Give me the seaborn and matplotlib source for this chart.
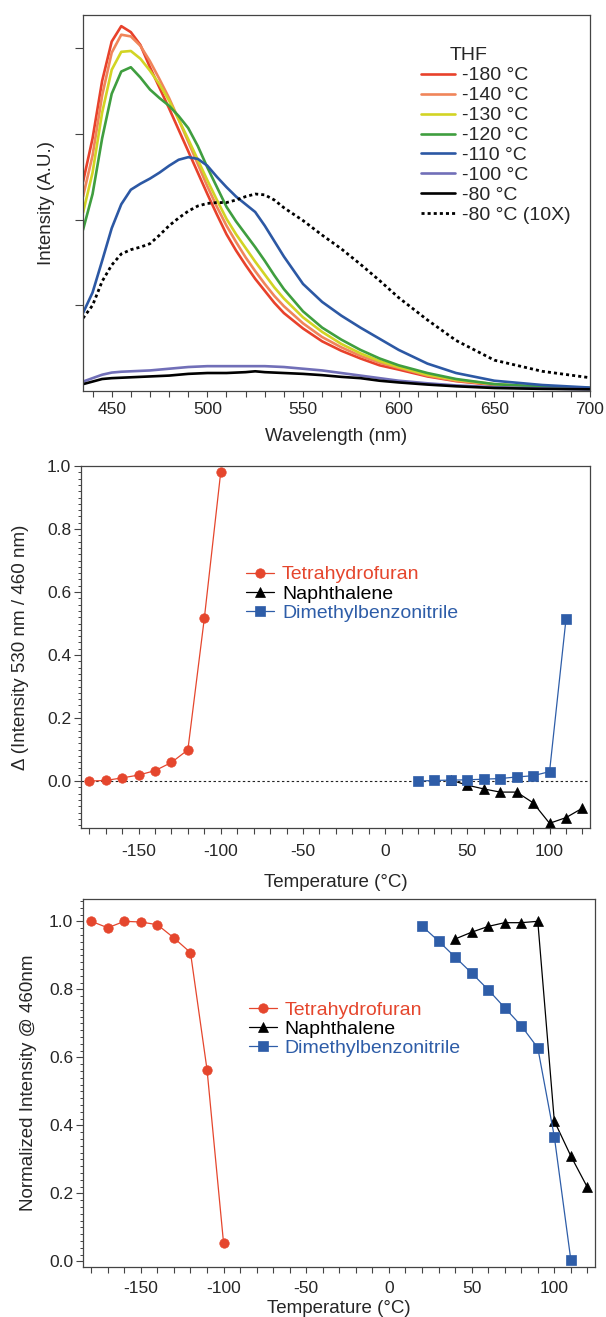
import numpy as np
import pandas as pd
import matplotlib
matplotlib.use("Agg")
import matplotlib.pyplot as plt
import seaborn as sns
from matplotlib.ticker import MultipleLocator, FormatStrFormatter

# ---------------- Panel 1: emission spectra in THF ----------------
wavelength = [435, 440, 445, 450, 455, 460, 465, 470, 475, 480, 485, 490, 495, 500, 505,
              510, 515, 520, 525, 530, 535, 540, 550, 560, 570, 580, 590, 600, 615, 630,
              650, 675, 700]
spec_m180 = [2.44, 2.95, 3.62, 4.08, 4.26, 4.19, 4.04, 3.78, 3.54, 3.30, 3.05, 2.80, 2.55, 2.30, 2.06,
             1.83, 1.64, 1.47, 1.31, 1.17, 1.03, 0.91, 0.73, 0.58, 0.47, 0.38, 0.30, 0.25, 0.17, 0.115,
             0.07, 0.045, 0.03]
spec_m140 = [2.27, 2.75, 3.45, 3.95, 4.16, 4.14, 4.03, 3.85, 3.64, 3.42, 3.17, 2.91, 2.65, 2.39, 2.15,
             1.93, 1.74, 1.56, 1.40, 1.25, 1.11, 0.99, 0.79, 0.63, 0.51, 0.41, 0.33, 0.27, 0.18, 0.12,
             0.075, 0.045, 0.03]
spec_m130 = [2.08, 2.55, 3.25, 3.75, 3.96, 3.97, 3.88, 3.74, 3.58, 3.39, 3.17, 2.94, 2.70, 2.46, 2.23,
             2.01, 1.83, 1.67, 1.51, 1.36, 1.21, 1.08, 0.86, 0.69, 0.55, 0.44, 0.35, 0.28, 0.19, 0.13,
             0.08, 0.05, 0.035]
spec_m120 = [1.88, 2.30, 2.95, 3.47, 3.73, 3.78, 3.66, 3.52, 3.42, 3.33, 3.21, 3.07, 2.86, 2.61, 2.38,
             2.15, 1.98, 1.83, 1.68, 1.52, 1.35, 1.19, 0.93, 0.74, 0.60, 0.48, 0.38, 0.30, 0.21, 0.14,
             0.08, 0.05, 0.035]
spec_m110 = [0.91, 1.15, 1.52, 1.90, 2.18, 2.35, 2.42, 2.48, 2.55, 2.63, 2.70, 2.73, 2.71, 2.63, 2.50,
             2.38, 2.27, 2.18, 2.09, 1.93, 1.75, 1.57, 1.25, 1.04, 0.88, 0.74, 0.61, 0.48, 0.32, 0.21,
             0.12, 0.07, 0.04]
spec_m100 = [0.11, 0.15, 0.19, 0.215, 0.225, 0.23, 0.235, 0.24, 0.25, 0.26, 0.27, 0.28, 0.285, 0.29, 0.29,
             0.29, 0.29, 0.29, 0.29, 0.29, 0.285, 0.28, 0.26, 0.24, 0.21, 0.18, 0.15, 0.12, 0.09, 0.065,
             0.045, 0.03, 0.02]
spec_m80 = [0.08, 0.11, 0.14, 0.15, 0.155, 0.16, 0.165, 0.17, 0.175, 0.18, 0.19, 0.20, 0.205, 0.21, 0.21,
            0.21, 0.215, 0.22, 0.23, 0.22, 0.215, 0.21, 0.20, 0.185, 0.165, 0.15, 0.12, 0.10, 0.075, 0.055,
            0.035, 0.025, 0.02]
spec_m80_x10 = [0.85, 1.00, 1.28, 1.47, 1.60, 1.65, 1.68, 1.72, 1.82, 1.93, 2.02, 2.10, 2.16, 2.19, 2.20,
                2.20, 2.23, 2.27, 2.30, 2.29, 2.23, 2.14, 1.99, 1.82, 1.66, 1.48, 1.29, 1.09, 0.83, 0.59,
                0.36, 0.23, 0.155]

spectra_labels = ["-180 °C", "-140 °C", "-130 °C", "-120 °C", "-110 °C", "-100 °C", "-80 °C", "-80 °C (10X)"]
spectra_values = [spec_m180, spec_m140, spec_m130, spec_m120, spec_m110, spec_m100, spec_m80, spec_m80_x10]
spectra_colors = ["#e8412b", "#f0855a", "#d2d424", "#3f9e3f", "#2c58a4", "#716fb8", "#000000", "#000000"]

# ---------------- Panel 2: delta ratio ----------------
temp_thf = [-180, -170, -160, -150, -140, -130, -120, -110, -100]
delta_thf = [0.0, 0.002, 0.010, 0.019, 0.033, 0.059, 0.099, 0.516, 0.981]
temp_naph = [40, 50, 60, 70, 80, 90, 100, 110, 120]
delta_naph = [0.003, -0.013, -0.025, -0.035, -0.035, -0.069, -0.134, -0.116, -0.086]
temp_dmbn = [20, 30, 40, 50, 60, 70, 80, 90, 100, 110]
delta_dmbn = [0.0, 0.002, 0.003, 0.004, 0.006, 0.008, 0.013, 0.017, 0.030, 0.514]

# ---------------- Panel 3: normalized intensity @ 460 nm ----------------
norm_thf = [1.0, 0.981, 1.0, 0.998, 0.990, 0.951, 0.908, 0.564, 0.054]
norm_naph = [0.948, 0.968, 0.985, 0.996, 0.996, 1.0, 0.413, 0.310, 0.218]
norm_dmbn = [0.986, 0.942, 0.895, 0.848, 0.799, 0.746, 0.693, 0.628, 0.367, 0.004]

solvent_labels = ["Tetrahydrofuran", "Naphthalene", "Dimethylbenzonitrile"]
solvent_colors = ["#e5462d", "#000000", "#2e5da8"]
solvent_markers = ["o", "^", "s"]

sns.set_style("ticks")
plt.rcParams['font.family'] = ['Liberation Sans', 'DejaVu Sans']
plt.rcParams['axes.unicode_minus'] = False

SPINE = "#444444"
fig = plt.figure(figsize=(6.06, 13.17), dpi=100)
H = 1317.0
W = 606.0

def add_ax(l, r, t, b):
    return fig.add_axes([l / W, 1 - b / H, (r - l) / W, (b - t) / H])

def style_frame(ax):
    for sp in ax.spines.values():
        sp.set_visible(True)
        sp.set_color(SPINE)
        sp.set_linewidth(0.9)

# ---- Panel 1 ----
ax1 = add_ax(83, 590, 15, 391)
for lab, vals, col in zip(spectra_labels, spectra_values, spectra_colors):
    dotted = "10X" in lab
    sns.lineplot(x=wavelength, y=vals, ax=ax1, color=col, label=lab,
                 linewidth=2.0 if dotted else 1.9,
                 linestyle=(0, (1.1, 1.1)) if dotted else "-", errorbar=None)
ax1.set_xlim(435, 700)
ax1.set_ylim(0, 4.39)
ax1.xaxis.set_major_locator(MultipleLocator(50))
ax1.xaxis.set_minor_locator(MultipleLocator(10))
ax1.set_yticks([1, 2, 3, 4])
ax1.set_yticklabels([])
style_frame(ax1)
ax1.tick_params(axis="x", which="both", direction="out", length=4, width=0.8, color=SPINE,
                labelsize=12.5, pad=4)
ax1.tick_params(axis="y", which="major", direction="out", length=6, width=0.8, color=SPINE)
ax1.set_xlabel("Wavelength (nm)", fontsize=13.5, labelpad=8)
ax1.set_ylabel("Intensity (A.U.)", fontsize=13.5)
ax1.yaxis.set_label_coords(-0.055, 0.5)
leg1 = ax1.legend(loc="upper left", bbox_to_anchor=(0.667, 0.862), frameon=False,
                  fontsize=14, handlelength=1.75, handletextpad=0.35, labelspacing=0.12,
                  borderpad=0, borderaxespad=0)
ax1.text(0.724, 0.892, "THF", transform=ax1.transAxes, fontsize=14, va="center", ha="left")

# ---- Panels 2 and 3 ----
def temp_panel(ax, ys, ylim, ylabel, ylab_x, legend_anchor, xpad, tickpad):
    temps = [temp_thf, temp_naph, temp_dmbn]
    for t, y, lab, col, mk in zip(temps, ys, solvent_labels, solvent_colors, solvent_markers):
        sns.lineplot(x=t, y=y, ax=ax, color=col, label=lab, marker=mk, markersize=6.5 if mk != "o" else 6.8,
                     markeredgecolor=col, markeredgewidth=0.5, linewidth=0.9, errorbar=None)
    ax.set_xlim(-185, 124.6)
    ax.set_ylim(*ylim)
    ax.xaxis.set_major_locator(MultipleLocator(50))
    ax.xaxis.set_minor_locator(MultipleLocator(10))
    ax.yaxis.set_major_locator(MultipleLocator(0.2))
    ax.yaxis.set_minor_locator(MultipleLocator(0.02))
    ax.yaxis.set_major_formatter(FormatStrFormatter("%.1f"))
    style_frame(ax)
    ax.tick_params(axis="x", which="both", direction="out", length=4.5, width=0.8, color=SPINE,
                   labelsize=12.5, pad=tickpad)
    ax.tick_params(axis="y", which="major", direction="out", length=5, width=0.8, color=SPINE,
                   labelsize=12.5, pad=2)
    ax.tick_params(axis="y", which="minor", direction="out", length=2.5, width=0.7, color=SPINE)
    ax.set_xlabel("Temperature (°C)", fontsize=13.5, labelpad=xpad)
    ax.set_ylabel(ylabel, fontsize=13.5)
    ax.yaxis.set_label_coords(ylab_x, 0.5)
    leg = ax.legend(loc="upper left", bbox_to_anchor=legend_anchor, frameon=False,
                    fontsize=14, handlelength=1.45, handletextpad=0.4, labelspacing=0.08,
                    borderpad=0, borderaxespad=0)
    for txt, col in zip(leg.get_texts(), solvent_colors):
        txt.set_color(col)

ax2 = add_ax(81, 590, 466, 827.7)
ax2.axhline(0, color="#222222", linewidth=0.8, linestyle=(0, (2.2, 2.2)), zorder=1)
temp_panel(ax2, [delta_thf, delta_naph, delta_dmbn], (-0.148, 1.0),
           "Δ (Intensity 530 nm / 460 nm)", -0.102, (0.324, 0.724), 11, 7)

ax3 = add_ax(83, 595, 899, 1266.5)
temp_panel(ax3, [norm_thf, norm_naph, norm_dmbn], (-0.0147, 1.0656),
           "Normalized Intensity @ 460nm", -0.09, (0.324, 0.722), 3, 6)

fig.savefig("out.png", dpi=100)
